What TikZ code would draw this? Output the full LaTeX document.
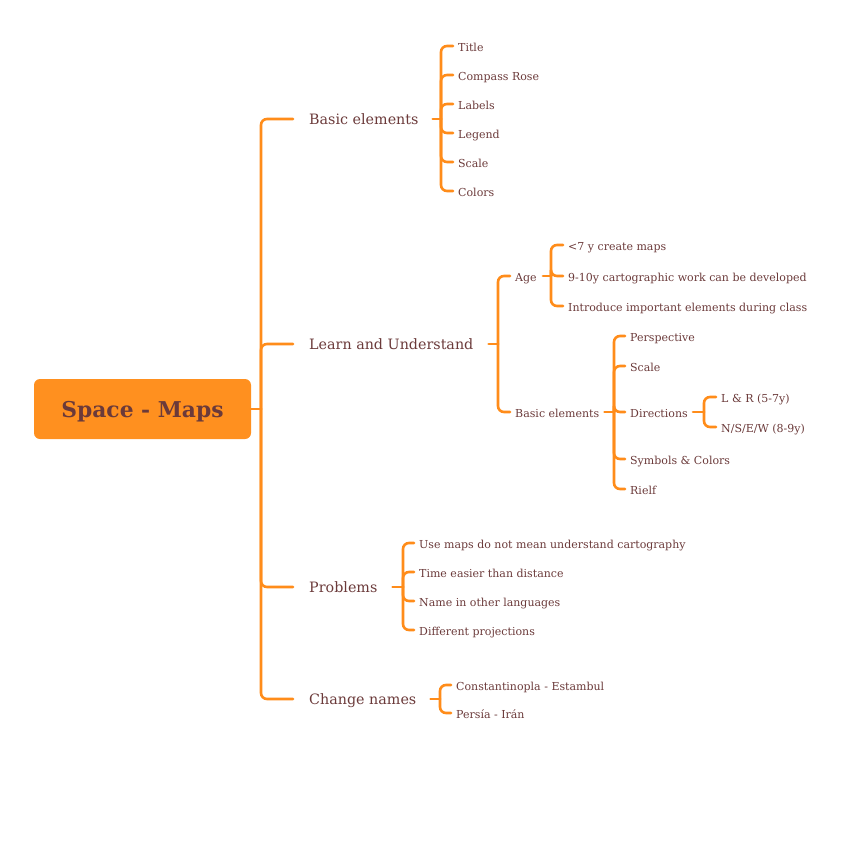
\documentclass[tikz,border=0pt]{standalone}
\usepackage{fontspec}
\setmainfont{DejaVu Serif}
\definecolor{ln}{HTML}{FF8C1A}
\definecolor{tx}{HTML}{6B3A3A}
\definecolor{rootfill}{HTML}{FF901F}
\begin{document}
\begin{tikzpicture}[x=1pt,y=-1pt,
  br/.style={draw=ln,line width=2.6pt,rounded corners=6pt,line cap=round},
  leaf/.style={anchor=west,inner sep=0pt,text=tx,font=\fontsize{11}{13}\selectfont,text height=10.8pt,text depth=0.6pt},
  main/.style={leaf,font=\fontsize{14.3}{17}\selectfont},
]
\useasboundingbox (0,0) rectangle (848,844);
\node[fill=rootfill, rounded corners=6pt, minimum width=217pt, minimum height=60pt, inner sep=0pt, text=tx, text height=17pt, text depth=0pt, font=\bfseries\fontsize{21.8}{26}\selectfont] (root) at (142.5,409) {Space - Maps};

\node[main] (b1) at (309,119) {Basic elements};
\node[main] (b2) at (309,344) {Learn and Understand};
\node[main] (b3) at (309,587) {Problems};
\node[main] (b4) at (309,699) {Change names};

\coordinate (j0) at (261,409);
\draw[br] (root.east) -- (j0);
\foreach \b in {b1,b2,b3,b4} \draw[br] (j0) |- ([xshift=-16pt]\b.west);

% Basic elements
\node[leaf] (t1) at (458,46) {Title};
\node[leaf] (t2) at (458,75) {Compass Rose};
\node[leaf] (t3) at (458,104) {Labels};
\node[leaf] (t4) at (458,133) {Legend};
\node[leaf] (t5) at (458,162) {Scale};
\node[leaf] (t6) at (458,191) {Colors};
\coordinate (j1) at (441,119);
\draw[br] ([xshift=14pt]b1.east) -- (j1);
\foreach \c in {t1,t2,t3,t4,t5,t6} \draw[br] (j1) |- ([xshift=-5pt]\c.west);

% Learn and Understand
\node[leaf] (age) at (515,276) {Age};
\node[leaf] (be2) at (515,412) {Basic elements};
\coordinate (j2) at (498,344);
\draw[br] ([xshift=15pt]b2.east) -- (j2);
\foreach \c in {age,be2} \draw[br] (j2) |- ([xshift=-5pt]\c.west);

\node[leaf] (a1) at (568,245) {<7 y create maps};
\node[leaf] (a2) at (568,276) {9-10y cartographic work can be developed};
\node[leaf] (a3) at (568,306) {Introduce important elements during class};
\coordinate (j3) at (551,276);
\draw[br] ([xshift=6pt]age.east) -- (j3);
\foreach \c in {a1,a2,a3} \draw[br] (j3) |- ([xshift=-5pt]\c.west);

\node[leaf] (e1) at (630,336) {Perspective};
\node[leaf] (e2) at (630,366) {Scale};
\node[leaf] (e3) at (630,412) {Directions};
\node[leaf] (e4) at (630,459) {Symbols \& Colors};
\node[leaf] (e5) at (630,489) {Rielf};
\coordinate (j4) at (614,412);
\draw[br] ([xshift=5pt]be2.east) -- (j4);
\foreach \c in {e1,e2,e3,e4,e5} \draw[br] (j4) |- ([xshift=-5pt]\c.west);

\node[leaf] (d1) at (721,397) {L \& R (5-7y)};
\node[leaf] (d2) at (721,427) {N/S/E/W (8-9y)};
\coordinate (j5) at (704,412);
\draw[br] ([xshift=5pt]e3.east) -- (j5);
\foreach \c in {d1,d2} \draw[br] (j5) |- ([xshift=-5pt]\c.west);

% Problems
\node[leaf] (p1) at (419,543) {Use maps do not mean understand cartography};
\node[leaf] (p2) at (419,572) {Time easier than distance};
\node[leaf] (p3) at (419,601) {Name in other languages};
\node[leaf] (p4) at (419,630) {Different projections};
\coordinate (j6) at (403,587);
\draw[br] ([xshift=15pt]b3.east) -- (j6);
\foreach \c in {p1,p2,p3,p4} \draw[br] (j6) |- ([xshift=-5pt]\c.west);

% Change names
\node[leaf] (c1) at (456,685) {Constantinopla - Estambul};
\node[leaf] (c2) at (456,713) {Persía - Irán};
\coordinate (j7) at (440,699);
\draw[br] ([xshift=14pt]b4.east) -- (j7);
\foreach \c in {c1,c2} \draw[br] (j7) |- ([xshift=-5pt]\c.west);
\end{tikzpicture}
\end{document}
